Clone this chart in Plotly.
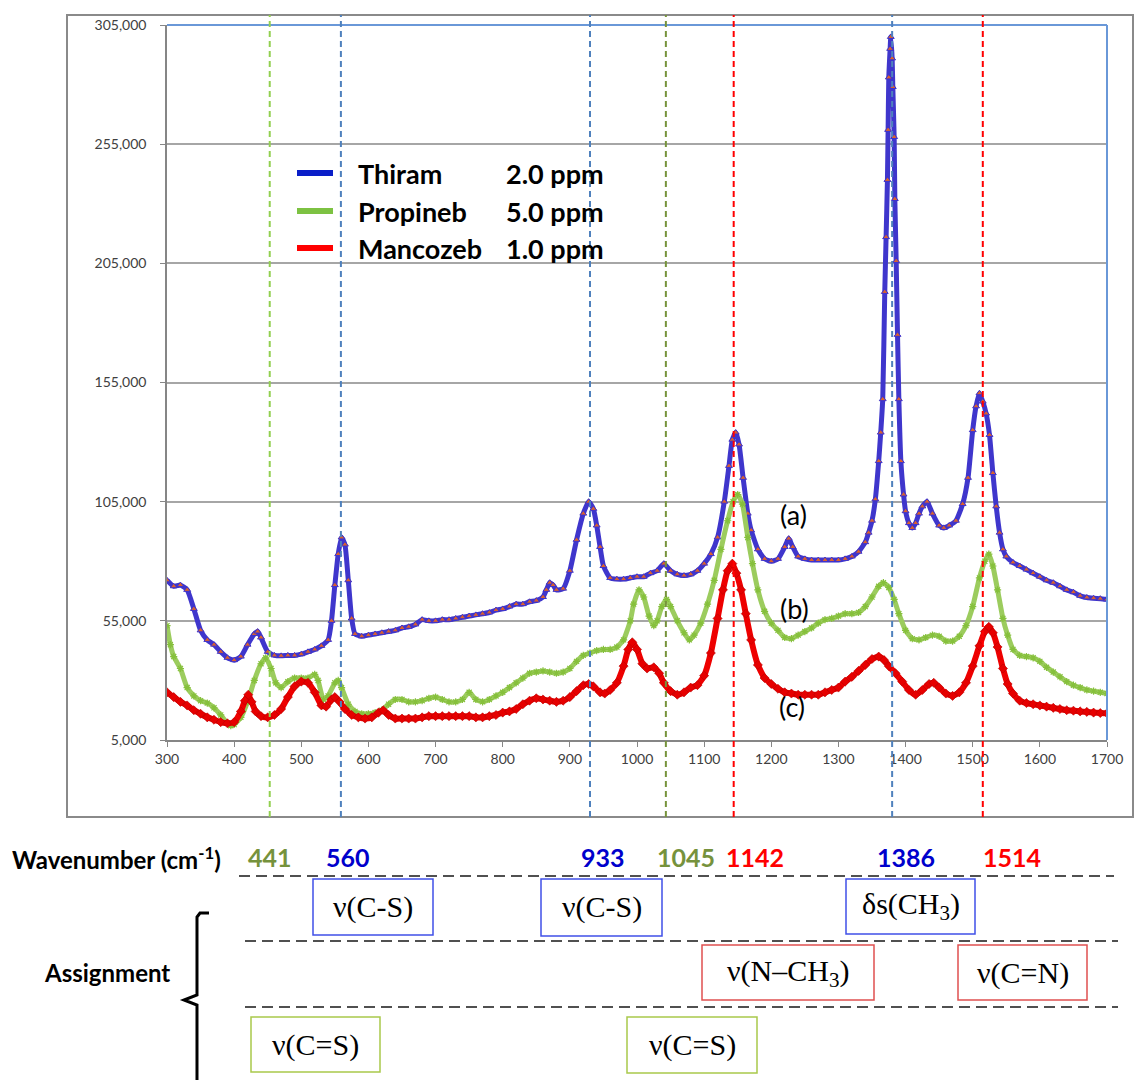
import plotly.graph_objects as go

W, H = 1134, 1080
XL, XR, YT, YB = 167, 1107, 25, 740


def px(x):
    return (x - XL) / (XR - XL)


def py(y):
    return (YB - y) / (YB - YT)


X_RANGE = [300, 1700]
Y_RANGE = [5000, 305000]
Y_TICKS = [5000, 55000, 105000, 155000, 205000, 255000, 305000]
X_TICKS = [300, 400, 500, 600, 700, 800, 900, 1000, 1100, 1200, 1300, 1400, 1500, 1600, 1700]

SERIES_NAMES = ["Thiram", "Propineb", "Mancozeb"]
SERIES_CONC = ["2.0 ppm", "5.0 ppm", "1.0 ppm"]
SERIES_TAGS = ["(a)", "(b)", "(c)"]

THIRAM = [
    (300, 72000), (310, 69500), (320, 70000), (330, 68000), (340, 60000), (350, 51000),
    (360, 47000), (370, 45000), (380, 42000), (390, 39500), (400, 38500), (410, 40000),
    (420, 45000), (430, 49500), (435, 50500), (440, 48000), (450, 42000), (460, 40500),
    (470, 40300), (480, 40500), (490, 40500), (500, 41000), (510, 42000), (520, 43000),
    (530, 44500), (540, 47000), (545, 55000), (550, 70000), (555, 83000), (560, 90000),
    (565, 87000), (570, 72000), (575, 56000), (580, 49500), (590, 48500), (600, 49000),
    (610, 49500), (620, 50000), (630, 50500), (640, 51000), (650, 52000), (660, 52500),
    (670, 53500), (680, 55500), (690, 55000), (700, 55000), (710, 55500), (720, 55500),
    (730, 56000), (740, 56500), (750, 57000), (760, 57500), (770, 58000), (780, 58500),
    (790, 59500), (800, 60000), (810, 61000), (820, 62000), (830, 62000), (840, 63000),
    (850, 63500), (860, 65000), (865, 68000), (870, 71000), (875, 70000), (880, 68000),
    (890, 68500), (900, 76000), (910, 89000), (920, 100000), (928, 105000), (935, 102000),
    (940, 95000), (945, 86000), (950, 78000), (960, 73000), (970, 72500), (980, 72500),
    (990, 73000), (1000, 73500), (1010, 73500), (1020, 75000), (1030, 76000), (1040, 79000),
    (1050, 76000), (1060, 74500), (1070, 74000), (1080, 74500), (1090, 76000), (1100, 79000),
    (1110, 83000), (1120, 90000), (1130, 105000), (1137, 120000), (1142, 131000), (1147, 134000),
    (1152, 129000), (1158, 115000), (1165, 100000), (1170, 93000), (1180, 85000), (1190, 81000),
    (1200, 80000), (1210, 81000), (1220, 86000), (1226, 89500), (1232, 86000), (1240, 82000),
    (1250, 81000), (1260, 80500), (1270, 80500), (1280, 80500), (1290, 80500), (1300, 80500),
    (1310, 81000), (1320, 82000), (1330, 84000), (1340, 88000), (1345, 92000), (1350, 97000),
    (1355, 106000), (1360, 122000), (1363, 134000), (1366, 148000), (1369, 193000), (1371, 216000),
    (1373, 240000), (1374, 261000), (1375, 283000), (1377, 295000), (1378, 300000), (1380, 291000),
    (1381, 279000), (1383, 258000), (1384, 232000), (1386, 206000), (1388, 175000), (1390, 148000),
    (1393, 122000), (1397, 108000), (1400, 101000), (1405, 96000), (1410, 94000), (1415, 96000),
    (1420, 100000), (1425, 103000), (1432, 105000), (1440, 100000), (1450, 95000), (1457, 94000),
    (1465, 95000), (1475, 97000), (1485, 104000), (1493, 115000), (1500, 135000), (1505, 145000),
    (1510, 150500), (1515, 147000), (1520, 142000), (1525, 133000), (1530, 117000), (1535, 103000),
    (1540, 92000), (1545, 85000), (1550, 82000), (1560, 79500), (1570, 78000), (1580, 76500),
    (1590, 75000), (1600, 73500), (1610, 72000), (1620, 71000), (1630, 69500), (1640, 68000),
    (1650, 67000), (1660, 65500), (1670, 64800), (1680, 64500), (1690, 64300), (1700, 64000),
]

PROPINEB = [
    (300, 53000), (305, 45000), (310, 40000), (320, 35000), (330, 27000), (340, 23500),
    (350, 21500), (360, 20500), (370, 18500), (380, 15500), (390, 12000), (395, 11000),
    (400, 11500), (410, 14500), (420, 21000), (430, 30000), (440, 37000), (447, 39500),
    (455, 35000), (462, 29000), (470, 27000), (480, 29500), (490, 31000), (500, 31000),
    (510, 31000), (520, 32500), (525, 30000), (533, 22000), (540, 23500), (550, 29000),
    (555, 30000), (560, 27000), (570, 20000), (580, 17000), (590, 16000), (600, 16000),
    (610, 16500), (620, 17500), (630, 20000), (640, 22000), (650, 22000), (660, 21000),
    (670, 21000), (680, 21500), (690, 22500), (700, 23000), (710, 22000), (720, 21000),
    (730, 21000), (740, 22000), (750, 25000), (760, 22000), (770, 21000), (780, 22000),
    (790, 23500), (800, 25000), (810, 27000), (820, 29000), (830, 31000), (840, 33000),
    (850, 33500), (860, 34000), (870, 33500), (880, 33000), (890, 33500), (900, 35000),
    (910, 38000), (920, 40500), (930, 41500), (940, 42500), (950, 43000), (960, 43000),
    (970, 44000), (980, 47000), (990, 55000), (995, 62000), (1003, 68000), (1010, 65000),
    (1018, 57000), (1025, 53000), (1030, 55000), (1037, 61000), (1044, 64000), (1050, 61000),
    (1060, 55000), (1070, 50000), (1078, 47000), (1085, 49000), (1095, 54000), (1105, 62000),
    (1115, 72000), (1125, 85000), (1135, 97000), (1143, 105000), (1150, 108000), (1157, 104000),
    (1165, 90000), (1172, 79000), (1180, 68000), (1190, 59000), (1200, 54000), (1210, 51000),
    (1220, 48000), (1230, 47500), (1240, 49000), (1250, 50500), (1260, 52000), (1270, 54000),
    (1280, 55500), (1290, 56000), (1300, 57000), (1310, 58000), (1320, 58000), (1330, 58500),
    (1340, 61000), (1350, 65000), (1360, 69500), (1367, 71000), (1375, 69000), (1383, 64000),
    (1390, 58000), (1400, 51000), (1410, 47500), (1420, 47000), (1430, 48000), (1440, 49000),
    (1450, 48500), (1460, 46500), (1470, 46500), (1480, 48500), (1490, 53000), (1500, 61000),
    (1510, 73000), (1518, 80000), (1524, 83000), (1530, 78000), (1537, 68000), (1545, 56000),
    (1552, 49000), (1560, 43000), (1570, 40500), (1580, 40000), (1590, 39500), (1600, 38000),
    (1610, 35500), (1620, 33500), (1630, 31500), (1640, 29500), (1650, 28000), (1660, 27000),
    (1670, 26000), (1680, 25500), (1690, 25000), (1700, 24500),
]

MANCOZEB = [
    (300, 25000), (310, 23000), (320, 21000), (330, 19500), (340, 17500), (350, 16000),
    (360, 14500), (370, 13500), (380, 12500), (390, 12000), (400, 12500), (410, 17000),
    (416, 21500), (421, 24000), (426, 21000), (432, 17000), (440, 15000), (450, 14500),
    (460, 15500), (470, 18000), (480, 23000), (490, 27500), (500, 29500), (510, 29000),
    (520, 25000), (530, 19500), (537, 19000), (545, 22000), (550, 23000), (557, 21000),
    (565, 18000), (575, 15500), (585, 14500), (595, 14000), (605, 14500), (615, 16500),
    (622, 17500), (630, 15500), (640, 14000), (650, 14000), (660, 14000), (670, 14000),
    (680, 14500), (690, 15000), (700, 15000), (710, 15000), (720, 15000), (730, 15000),
    (740, 15000), (750, 15000), (760, 14500), (770, 14500), (780, 15000), (790, 15500),
    (800, 16500), (810, 17000), (820, 18000), (830, 20000), (840, 21500), (850, 22500),
    (860, 22000), (870, 21500), (880, 21000), (890, 21500), (900, 23000), (910, 25500),
    (920, 28000), (928, 28500), (935, 27500), (945, 25000), (952, 24500), (960, 26000),
    (970, 29000), (980, 36000), (987, 43000), (993, 46000), (1000, 43000), (1008, 37000),
    (1015, 35000), (1025, 35500), (1033, 33000), (1040, 29000), (1050, 25500), (1060, 24000),
    (1070, 25000), (1080, 27000), (1090, 28000), (1100, 32000), (1110, 41500), (1120, 56000),
    (1128, 68000), (1135, 76000), (1142, 79000), (1148, 75000), (1155, 68000), (1162, 58000),
    (1170, 47000), (1180, 36500), (1190, 31000), (1200, 28500), (1210, 26500), (1220, 25000),
    (1230, 24500), (1240, 24000), (1250, 24000), (1260, 24000), (1270, 24000), (1280, 25000),
    (1290, 26000), (1300, 27000), (1310, 29500), (1320, 31500), (1330, 34000), (1340, 36500),
    (1350, 39000), (1360, 40000), (1368, 38500), (1375, 36000), (1385, 33000), (1395, 29500),
    (1405, 26000), (1415, 24000), (1425, 26000), (1435, 28500), (1442, 29000), (1450, 27000),
    (1460, 24500), (1470, 23500), (1480, 25000), (1490, 29000), (1500, 36000), (1510, 44500),
    (1518, 50500), (1524, 52500), (1530, 50000), (1537, 44000), (1545, 35000), (1552, 28500),
    (1560, 24500), (1570, 21500), (1580, 20500), (1590, 20000), (1600, 19500), (1610, 19000),
    (1620, 18500), (1630, 18000), (1640, 17500), (1650, 17300), (1660, 17000), (1670, 16800),
    (1680, 16500), (1690, 16300), (1700, 16200),
]

# reference band lines (where they are drawn) and the wavenumber labels below
PEAK_LINE_POS = [453, 559, 930, 1043, 1144, 1380, 1515]
PEAK_LABELS = ["441", "560", "933", "1045", "1142", "1386", "1514"]
PEAK_LINE_COLORS = ["#92D050", "#4F81BD", "#4F81BD", "#77933C", "#FF0000", "#4F81BD", "#FF0000"]
PEAK_LABEL_COLORS = ["#76923C", "#0000CC", "#0000CC", "#76923C", "#FF0000", "#0000CC", "#FF0000"]
PEAK_LABEL_PX = [270, 348, 603, 686, 755, 906, 1012]

ASSIGN_TEXT = ["ν(C-S)", "ν(C-S)", "δs(CH<sub>3</sub>)", "ν(N–CH<sub>3</sub>)",
               "ν(C=N)", "ν(C=S)", "ν(C=S)"]
ASSIGN_COLORS = ["#4050E8", "#4050E8", "#4050E8", "#E05050", "#E05050", "#A9C94B", "#A9C94B"]
ASSIGN_BOX_PX = [(313, 879, 433, 935), (541, 879, 662, 936), (846, 879, 975, 934),
                 (702, 945, 874, 1000), (958, 945, 1087, 1000), (251, 1017, 380, 1072),
                 (627, 1017, 757, 1073)]

SANS = "Lato, 'Open Sans', sans-serif"
SERIF = "'Liberation Serif', 'DejaVu Serif', serif"

fig = go.Figure()

styles = [
    dict(line=dict(color="#3F36CC", width=5, shape="spline", smoothing=0.5),
         marker=dict(symbol="triangle-up", size=6, color="#D9602E",
                     line=dict(color="#3A32D0", width=1))),
    dict(line=dict(color="#9CCC5E", width=5, shape="spline", smoothing=0.5),
         marker=dict(symbol="asterisk-open", size=6, color="#86C03C",
                     line=dict(color="#86C03C", width=1.2))),
    dict(line=dict(color="#EE0000", width=6, shape="spline", smoothing=0.5),
         marker=dict(symbol="diamond", size=7, color="#E60000",
                     line=dict(color="#B80000", width=0.6))),
]

for name, data, st in zip(SERIES_NAMES, [THIRAM, PROPINEB, MANCOZEB], styles):
    xs = [p[0] for p in data]
    ys = [p[1] for p in data]
    fig.add_trace(go.Scatter(x=xs, y=ys, mode="lines+markers", name=name,
                             line=st["line"], marker=st["marker"], showlegend=False))

shapes = []
# outer chart frame
shapes.append(dict(type="rect", xref="paper", yref="paper", x0=px(67), x1=px(1133),
                   y0=py(817), y1=py(15), line=dict(color="#8A8A8A", width=2), layer="below"))
# blue top / right border of the plot area
shapes.append(dict(type="line", xref="paper", yref="paper", x0=0, x1=1, y0=1, y1=1,
                   line=dict(color="#6A98D8", width=2)))
shapes.append(dict(type="line", xref="paper", yref="paper", x0=1, x1=1, y0=0, y1=1,
                   line=dict(color="#6A98D8", width=2)))
# vertical dashed reference lines
for xv, col in zip(PEAK_LINE_POS, PEAK_LINE_COLORS):
    shapes.append(dict(type="line", xref="x", yref="paper", x0=xv, x1=xv,
                       y0=py(817), y1=py(15), line=dict(color=col, width=2, dash="6px,4px"),
                       layer="above"))
# legend line samples
legend_cols = ["#0A1EC8", "#7DC242", "#FF0000"]
legend_y = [173, 211, 248]
for col, yy in zip(legend_cols, legend_y):
    shapes.append(dict(type="line", xref="paper", yref="paper", x0=px(297), x1=px(333),
                       y0=py(yy), y1=py(yy), line=dict(color=col, width=6)))
# horizontal dashed separators in the assignment table
for x0, x1, yy in [(239, 1114, 876), (245, 1118, 941), (245, 1118, 1007)]:
    shapes.append(dict(type="line", xref="paper", yref="paper", x0=px(x0), x1=px(x1),
                       y0=py(yy), y1=py(yy), line=dict(color="#505050", width=2, dash="11px,6px")))
# assignment boxes
for (x0, y0, x1, y1), col in zip(ASSIGN_BOX_PX, ASSIGN_COLORS):
    shapes.append(dict(type="rect", xref="paper", yref="paper", x0=px(x0), x1=px(x1),
                       y0=py(y1), y1=py(y0), line=dict(color=col, width=1.5)))
# curly brace
brace = [(209, 913), (200, 913), (197, 917), (197, 995), (184, 1000), (197, 1005), (197, 1082)]
path = "M " + " L ".join(f"{px(a):.5f},{py(b):.5f}" for a, b in brace)
shapes.append(dict(type="path", xref="paper", yref="paper", path=path,
                   line=dict(color="black", width=3)))

ann = []
# legend texts
for nm, conc, yy in zip(SERIES_NAMES, SERIES_CONC, legend_y):
    ann.append(dict(xref="paper", yref="paper", x=px(356), y=py(yy), text=f"<b>{nm}</b>",
                    showarrow=False, xanchor="left", yanchor="middle",
                    font=dict(family=SANS, size=27, color="black")))
    ann.append(dict(xref="paper", yref="paper", x=px(504), y=py(yy), text=f"<b>{conc}</b>",
                    showarrow=False, xanchor="left", yanchor="middle",
                    font=dict(family=SANS, size=27, color="black")))
# (a) (b) (c)
for tag, (xx, yy) in zip(SERIES_TAGS, [(793, 514), (794, 608), (792, 706)]):
    ann.append(dict(xref="paper", yref="paper", x=px(xx), y=py(yy), text=tag, showarrow=False,
                    xanchor="center", yanchor="middle",
                    font=dict(family=SANS, size=27, color="black")))
# wavenumber row
ann.append(dict(xref="paper", yref="paper", x=px(10), y=py(858),
                text="<b>Wavenumber (cm<sup>-1</sup>)</b>", showarrow=False,
                xanchor="left", yanchor="middle", font=dict(family=SANS, size=24, color="black")))
for lab, col, xx in zip(PEAK_LABELS, PEAK_LABEL_COLORS, PEAK_LABEL_PX):
    ann.append(dict(xref="paper", yref="paper", x=px(xx), y=py(857), text=f"<b>{lab}</b>",
                    showarrow=False, xanchor="center", yanchor="middle",
                    font=dict(family=SANS, size=25, color=col)))
ann.append(dict(xref="paper", yref="paper", x=px(107), y=py(972), text="<b>Assignment</b>",
                showarrow=False, xanchor="center", yanchor="middle",
                font=dict(family=SANS, size=24, color="black")))
for txt, (x0, y0, x1, y1) in zip(ASSIGN_TEXT, ASSIGN_BOX_PX):
    ann.append(dict(xref="paper", yref="paper", x=px((x0 + x1) / 2), y=py((y0 + y1) / 2),
                    text=txt, showarrow=False, xanchor="center", yanchor="middle",
                    font=dict(family=SERIF, size=30, color="black")))

fig.update_layout(
    width=W, height=H,
    margin=dict(l=XL, r=W - XR, t=YT, b=H - YB, pad=0),
    paper_bgcolor="white", plot_bgcolor="white",
    showlegend=False,
    shapes=shapes, annotations=ann,
    xaxis=dict(range=X_RANGE, tickvals=X_TICKS, showgrid=False, showline=True,
               linecolor="#868686", linewidth=1.5, ticks="outside", ticklen=5,
               tickcolor="#868686", tickfont=dict(family=SANS, size=14, color="#404040"),
               zeroline=False),
    yaxis=dict(range=Y_RANGE, tickvals=Y_TICKS, tickformat=",", showgrid=True,
               gridcolor="#A6A6A6", gridwidth=1.5, showline=True, linecolor="#868686",
               linewidth=1.5, ticks="outside", ticklen=5, tickcolor="#868686",
               tickfont=dict(family=SANS, size=14, color="#404040"), zeroline=False,
               ticklabelstandoff=11),
)

fig.write_html("out.html")
